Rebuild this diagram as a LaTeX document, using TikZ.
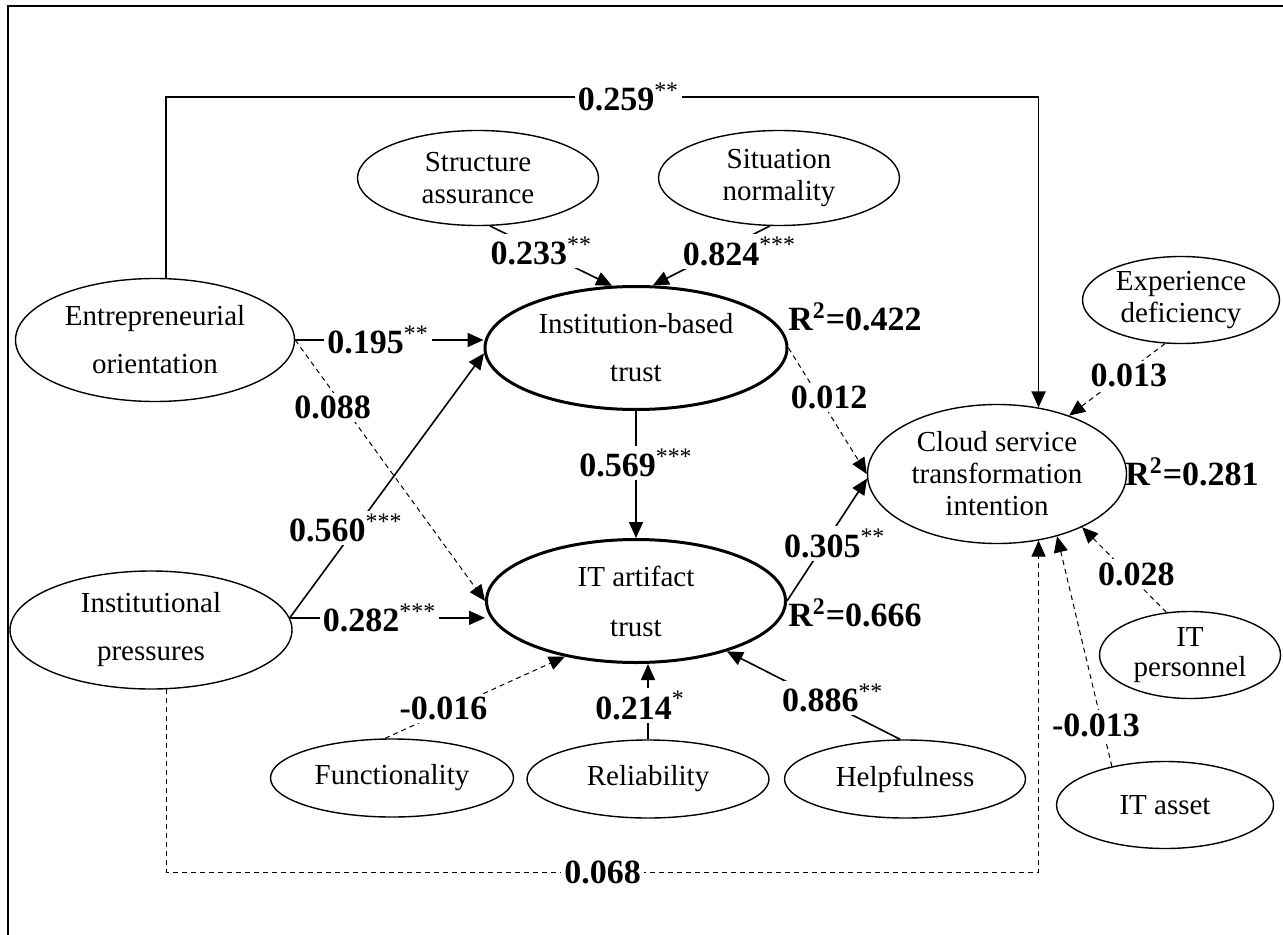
\documentclass[tikz,border=0pt]{standalone}
\usepackage{fontspec}
\setmainfont{Liberation Serif}
\usetikzlibrary{shapes.geometric, arrows.meta}
\newcommand{\stars}[1]{\textsuperscript{\normalfont #1}}

\begin{document}
\begin{tikzpicture}[x=0.5pt, y=-0.5pt,
    latent/.style={ellipse, draw, line width=0.7pt, inner sep=0pt, align=center, font=\fontsize{14.5}{16}\selectfont},
    trust/.style={latent, line width=1.5pt},
    coef/.style={fill=white, inner sep=1.5pt, font=\fontsize{17}{19}\selectfont\bfseries},
    arr/.style={-{Triangle[length=8pt, width=7pt]}, line width=0.8pt},
    darr/.style={arr, line width=0.5pt, dash pattern=on 2.5pt off 2pt}]
    \useasboundingbox (0,0) rectangle (1283,935);
    \draw[line width=1.3pt] (8,935) -- (8,6) -- (1283,6);

    \node (eo) [latent, minimum width=139.5pt, minimum height=61.5pt] at (155,340) {Entrepreneurial\\[8pt]orientation};
    \node (ip) [latent, minimum width=141pt, minimum height=59pt] at (151,630) {Institutional\\[8pt]pressures};
    \node (sa) [latent, minimum width=120.5pt, minimum height=47.5pt] at (478,178) {Structure\\assurance};
    \node (sn) [latent, minimum width=120.5pt, minimum height=47.5pt] at (779,178) {Situation\\normality};
    \node (ibt) [trust, minimum width=151pt, minimum height=61.5pt] at (636,348) {Institution-based\\[8pt]trust};
    \node (itt) [trust, minimum width=149.5pt, minimum height=61.5pt] at (636,601) {IT artifact\\[9pt]trust};
    \node (csti) [latent, minimum width=129.5pt, minimum height=69.5pt] at (997,474) {Cloud service\\transformation\\intention};
    \node (ed) [latent, minimum width=98.5pt, minimum height=43.5pt] at (1181,300) {Experience\\deficiency};
    \node (itp) [latent, minimum width=90.5pt, minimum height=43.5pt, font=\fontsize{14.5}{15}\selectfont] at (1190,655) {IT\\personnel};
    \node (ita) [latent, minimum width=108.5pt, minimum height=43.5pt] at (1165,805) {IT asset};
    \node (func) [latent, minimum width=121.5pt, minimum height=39pt] at (392,778) {Functionality};
    \node (rel) [latent, minimum width=121pt, minimum height=39pt] at (648,779) {Reliability};
    \node (help) [latent, minimum width=120.5pt, minimum height=39pt] at (905,779) {Helpfulness};

    \node (r2ibt) [coef, fill=none] at (855,317) {R\textsuperscript{2}=0.422};
    \node (r2itt) [coef, fill=none] at (855,613) {R\textsuperscript{2}=0.666};
    \node (r2csti) [coef, fill=none] at (1192,472) {R\textsuperscript{2}=0.281};

    \draw[arr] (eo.80) -- ++(0,-181) -| node[coef, pos=.265] {0.259\stars{**}} (csti.58);
    \draw[arr] (eo.east) -- node[coef, pos=.44] {0.195\stars{**}} (eo.east -| ibt.west);
    \draw[darr] (eo.east) -- node[coef, pos=.26, xshift=-6pt] {0.088} (itt.west);
    \draw[arr] (ip.5) -- node[coef, pos=.34, xshift=-5pt] {0.560\stars{***}} (ibt.182);
    \draw[arr] (ip.5) -- node[coef, pos=.46] {0.282\stars{***}} (ip.5 -| itt.west);
    \draw[darr] (ip.-75) -- ++(0,183) -| node[coef, pos=.25] {0.068} (csti.-58);
    \draw[arr] (sa.-76) -- node[coef, pos=.42] {0.233\stars{**}} (ibt.111);
    \draw[arr] (sn.-101) -- node[coef, pos=.43, xshift=10pt] {0.824\stars{***}} (ibt.75);
    \draw[arr] (ibt) -- node[coef, pos=.41] {0.569\stars{***}} (itt);
    \draw[darr] (ibt.east) -- node[coef, pos=.39, xshift=5pt] {0.012} (csti.west);
    \draw[arr] (itt.east) -- node[coef, pos=.47, xshift=5pt] {0.305\stars{**}} (csti.182);
    \draw[darr] (func.100) -- node[coef, pos=.37, xshift=-4pt] {-0.016} (itt.-142);
    \draw[arr] (rel.north) -- node[coef, pos=.45, xshift=-4pt] {0.214\stars{*}} (rel.north |- itt.south);
    \draw[arr] (help.97) -- node[coef, pos=.47, xshift=7pt] {0.886\stars{**}} (itt.-29);
    \draw[darr] (ed.-110) -- node[coef, pos=.44, xshift=3pt] {0.013} (csti.39);
    \draw[darr] (itp.119) -- node[coef, pos=.45, xshift=4pt] {0.028} (csti.-32);
    \draw[darr] (ita.144) -- node[coef, pos=.18, xshift=-3pt] {-0.013} (csti.-46);
\end{tikzpicture}
\end{document}
